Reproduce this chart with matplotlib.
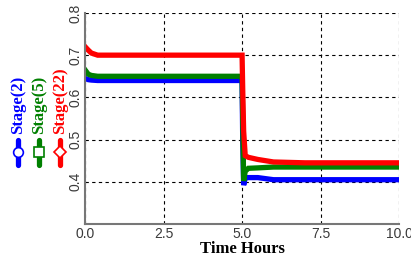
import numpy as np
import matplotlib.pyplot as plt
from matplotlib.lines import Line2D

# time axis (hours) and the three stage curves
time_h = [0.0, 0.1, 0.2, 0.4, 1.0, 5.0, 5.02, 5.05, 5.1, 5.2, 5.5, 6.0, 7.0, 10.0]
stage2 = [0.645, 0.642, 0.641, 0.640, 0.640, 0.640, 0.50, 0.392, 0.410, 0.410, 0.410, 0.405, 0.405, 0.405]
stage5 = [0.665, 0.655, 0.652, 0.650, 0.650, 0.650, 0.55, 0.402, 0.425, 0.432, 0.433, 0.435, 0.435, 0.435]
stage22 = [0.720, 0.712, 0.705, 0.700, 0.700, 0.700, 0.62, 0.52, 0.462, 0.458, 0.453, 0.447, 0.445, 0.445]

names = ['Stage(2)', 'Stage(5)', 'Stage(22)']
colors = ['#0000ff', '#008000', '#ff0000']
markers = ['o', 's', 'D']

xticks = [0.0, 2.5, 5.0, 7.5, 10.0]
yticks = [0.4, 0.5, 0.6, 0.7, 0.8]

fig = plt.figure(figsize=(4.11, 2.59), dpi=100)
ax = fig.add_axes([0.207, 0.135, 0.764, 0.815])

for y, c in zip([stage2, stage5, stage22], colors):
    ax.plot(time_h, y, color=c, lw=3.8, solid_joinstyle='miter')

ax.set_xlim(0, 10)
ax.set_ylim(0.3, 0.8)
ax.set_xticks(xticks)
ax.set_xticklabels([f'{t:.1f}' for t in xticks])
ax.set_yticks(yticks)
ax.set_yticklabels([f'{t:.1f}' for t in yticks], rotation=90, va='center')
ax.tick_params(length=0, labelsize=10, labelcolor='#3a3a3a', pad=2,
               labelfontfamily='Liberation Sans')
ax.grid(True, color='black', ls=(0, (3, 3)), lw=0.8)
for s in ['top', 'right']:
    ax.spines[s].set_visible(False)
for s in ['left', 'bottom']:
    ax.spines[s].set_color('#777777')
    ax.spines[s].set_linewidth(1.5)
ax.set_xlabel('Time Hours', family='Liberation Serif', fontweight='bold',
              fontsize=12, labelpad=0)

# vertical legend on the left
for i, (n, c, m) in enumerate(zip(names, colors, markers)):
    x = (18 + 21 * i) / 411
    fig.add_artist(Line2D([x, x], [1 - 165 / 259, 1 - 140 / 259], transform=fig.transFigure,
                          color=c, lw=3.8, solid_capstyle='round'))
    fig.add_artist(Line2D([x], [1 - 152 / 259], transform=fig.transFigure, marker=m,
                          color=c, markerfacecolor='white', markersize=7 if m != 'D' else 6,
                          markeredgewidth=1.2))
    fig.text(x, 1 - 134 / 259, n, rotation=90, ha='center', va='bottom', color=c,
             family='Liberation Serif', fontweight='bold', fontsize=12)

fig.savefig('out.png', dpi=100)
